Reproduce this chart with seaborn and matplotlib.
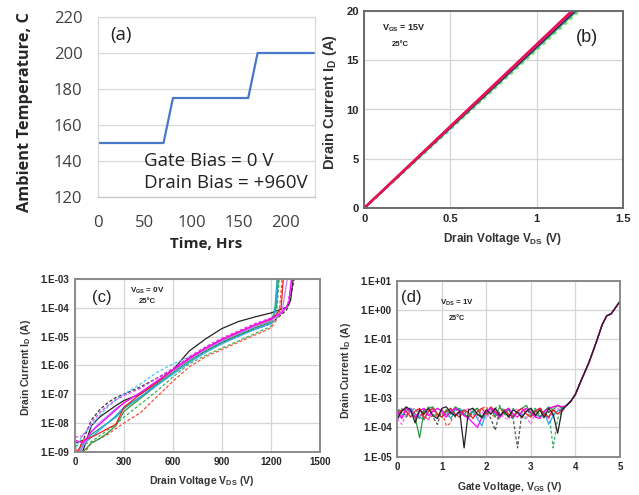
import numpy as np
import pandas as pd
import matplotlib
matplotlib.use("Agg")
import matplotlib.pyplot as plt
import matplotlib.ticker as mticker
import seaborn as sns

sns.set_style("white")
plt.rcParams["font.family"] = ["Liberation Sans", "DejaVu Sans"]
plt.rcParams["mathtext.fontset"] = "custom"
plt.rcParams["mathtext.rm"] = "Liberation Sans"
plt.rcParams["mathtext.bf"] = "Liberation Sans:bold"
plt.rcParams["mathtext.it"] = "Liberation Sans:italic"

# ---------------- (a) stress profile ----------------
stress_hours = [0, 70, 80, 160, 170, 230]
stress_temp_c = [150, 150, 175, 175, 200, 200]

# ---------------- (b) output curves, V_GS = 15 V ----------------
b_names = ["g_dot", "g_solid", "b_solid", "k_solid", "m_solid", "r_solid"]
b_colors = ["#7ee07e", "#2e9e4e", "#2030b0", "#202020", "#ff30c0", "#e8104e"]
b_vds_end = [1.245, 1.232, 1.222, 1.217, 1.210, 1.204]
b_id_end = [20, 20, 20, 20, 20, 20]

# ---------------- (c) blocking curves, V_GS = 0 V (log10 of I_D) ----------------
c_vds = [0, 50, 100, 150, 200, 250, 300, 400, 500, 600, 700, 800, 900, 1000, 1100, 1200]
c_k_solid = [-9.4, -8.95, -8.1, -7.8, -7.6, -7.4, -7.22, -7.0, -6.6, -6.15, -5.5, -5.08, -4.72, -4.48, -4.32, -4.18]
c_k_dash = [-8.7, -8.6, -7.9, -7.55, -7.3, -7.12, -7.0, -6.75, -6.45, -6.15, -5.8, -5.5, -5.2, -4.95, -4.75, -4.55]
c_r_solid = [-9.2, -8.6, -8.5, -8.35, -8.2, -8.05, -7.45, -7.0, -6.6, -6.15, -5.75, -5.4, -5.1, -4.85, -4.6, -4.4]
c_r_dash = [-8.9, -9.1, -8.7, -8.55, -8.4, -8.2, -8.0, -7.65, -7.1, -6.55, -6.05, -5.7, -5.45, -5.2, -4.95, -4.7]
c_g_solid = [-9.5, -9.0, -8.7, -8.55, -8.35, -8.1, -7.6, -7.15, -6.7, -6.25, -5.85, -5.5, -5.2, -4.95, -4.7, -4.5]
c_g_dash = [-8.8, -8.75, -8.65, -8.45, -8.25, -8.05, -7.8, -7.35, -6.9, -6.4, -5.95, -5.65, -5.4, -5.15, -4.9, -4.65]
c_t_solid = [-9.3, -8.8, -8.4, -8.2, -8.0, -7.8, -7.5, -7.1, -6.65, -6.2, -5.8, -5.45, -5.15, -4.9, -4.65, -4.45]
c_c_solid = [-9.1, -8.75, -8.5, -8.25, -8.0, -7.75, -7.45, -7.1, -6.7, -6.3, -5.9, -5.55, -5.25, -5.0, -4.75, -4.55]
c_c_dash = [-8.9, -8.4, -8.1, -7.75, -7.45, -7.2, -7.0, -6.65, -6.25, -5.95, -5.7, -5.45, -5.2, -4.95, -4.75, -4.55]
c_m_solid = [-8.6, -8.7, -8.3, -8.05, -7.8, -7.55, -7.3, -6.95, -6.55, -6.15, -5.75, -5.4, -5.1, -4.85, -4.6, -4.38]
c_m_dash = [-8.5, -8.45, -8.0, -7.65, -7.4, -7.2, -7.05, -6.8, -6.45, -6.1, -5.7, -5.35, -5.05, -4.8, -4.55, -4.35]
c_v_solid = [-9.2, -8.8, -8.3, -8.0, -7.75, -7.5, -7.3, -6.95, -6.6, -6.2, -5.8, -5.45, -5.15, -4.9, -4.65, -4.45]

# avalanche tails beyond 1200 V: (V_DS, log10 I_D)
c_k_solid_tail = ([1300, 1320, 1335], [-3.97, -3.75, -3.0])
c_k_dash_tail = ([1295, 1312, 1342], [-4.08, -3.85, -3.0])
c_r_solid_tail = ([1230, 1262, 1275], [-4.25, -4.0, -3.0])
c_r_dash_tail = ([1230, 1250, 1268], [-4.45, -4.2, -3.0])
c_g_solid_tail = ([1215, 1232, 1245], [-4.3, -4.0, -3.0])
c_g_dash_tail = ([1220, 1236, 1250], [-4.4, -4.05, -3.0])
c_t_solid_tail = ([1215, 1225, 1238], [-4.25, -3.95, -3.0])
c_c_solid_tail = ([1215, 1228, 1240], [-4.3, -4.0, -3.0])
c_c_dash_tail = ([1215, 1230, 1242], [-4.25, -3.95, -3.0])
c_m_solid_tail = ([1260, 1290, 1310, 1325], [-4.2, -4.0, -3.8, -3.0])
c_m_dash_tail = ([1270, 1300, 1330], [-4.15, -3.95, -3.0])
c_v_solid_tail = ([1240, 1270, 1300], [-4.3, -4.05, -3.0])

# ---------------- (d) transfer curves, V_DS = 1 V (log10 of I_D) ----------------
d_vgs_floor = [0.0, 0.1, 0.2, 0.3, 0.4, 0.5, 0.6, 0.7, 0.8, 0.9,
               1.0, 1.1, 1.2, 1.3, 1.4, 1.5, 1.6, 1.7, 1.8, 1.9,
               2.0, 2.1, 2.2, 2.3, 2.4, 2.5, 2.6, 2.7, 2.8, 2.9,
               3.0, 3.1, 3.2, 3.3, 3.4, 3.5, 3.6, 3.7]
d_k_solid = [-3.70, -3.45, -3.30, -3.40, -3.85, -3.40, -3.55, -3.35, -3.60, -3.70,
             -3.35, -3.30, -3.50, -3.60, -3.45, -4.70, -3.40, -3.35, -3.55, -3.65,
             -3.40, -3.55, -3.35, -3.60, -3.45, -3.65, -3.40, -3.50, -3.65, -3.45,
             -3.35, -3.60, -3.40, -3.65, -3.35, -3.55, -4.20, -3.40]
d_k_dash = [-3.45, -3.35, -3.65, -3.35, -3.55, -3.70, -3.40, -3.55, -3.65, -3.90,
            -3.40, -3.60, -3.35, -3.65, -3.45, -3.40, -3.70, -3.45, -3.35, -3.65,
            -3.45, -3.70, -4.10, -3.45, -3.35, -3.60, -3.70, -4.70, -3.45, -3.35,
            -3.60, -3.45, -3.35, -3.70, -3.45, -3.60, -3.40, -3.45]
d_r_solid = [-3.55, -3.40, -3.45, -3.65, -3.45, -3.35, -3.70, -3.45, -3.35, -3.55,
             -3.65, -3.45, -3.35, -3.55, -3.65, -3.40, -3.50, -3.70, -3.45, -3.35,
             -3.55, -3.30, -3.45, -3.65, -3.40, -3.55, -3.65, -3.45, -3.35, -3.55,
             -3.65, -3.45, -3.35, -3.55, -3.65, -3.40, -3.55, -3.40]
d_r_dash = [-3.70, -3.45, -3.60, -3.35, -3.70, -3.45, -3.60, -3.75, -3.40, -3.65,
            -3.40, -3.95, -3.85, -3.30, -3.45, -3.60, -3.70, -3.45, -3.60, -3.35,
            -3.30, -3.55, -3.65, -3.70, -3.45, -3.35, -3.60, -3.45, -3.70, -3.40,
            -3.45, -3.65, -3.35, -3.45, -3.70, -3.30, -3.25, -3.40]
d_g_solid = [-3.60, -3.45, -3.35, -3.45, -3.65, -4.35, -3.45, -3.35, -3.30, -3.55,
             -3.65, -3.40, -3.55, -3.30, -3.40, -3.55, -3.65, -3.45, -3.35, -3.70,
             -3.45, -3.35, -3.65, -3.30, -3.55, -3.40, -3.65, -3.45, -3.35, -3.25,
             -3.55, -3.40, -3.65, -3.45, -3.30, -3.40, -3.25, -3.35]
d_g_dash = [-3.40, -3.55, -3.65, -3.45, -3.35, -3.65, -3.45, -3.30, -3.55, -3.65,
            -3.40, -3.55, -3.70, -3.45, -3.35, -3.55, -3.65, -3.35, -3.55, -3.70,
            -3.60, -3.45, -3.35, -3.25, -3.55, -3.65, -3.35, -3.55, -3.65, -3.70,
            -3.45, -3.35, -3.55, -3.65, -3.45, -4.70, -3.70, -3.45]
d_c_solid = [-3.70, -3.60, -3.45, -3.35, -3.55, -3.65, -3.75, -3.45, -3.35, -3.55,
             -3.65, -3.45, -3.70, -3.40, -3.35, -3.55, -3.65, -3.45, -3.70, -3.95,
             -3.45, -3.35, -3.55, -3.65, -3.45, -3.35, -3.70, -3.45, -3.60, -3.45,
             -3.35, -3.55, -3.65, -3.45, -3.90, -3.60, -3.45, -3.35]
d_m_solid = [-3.45, -3.70, -3.35, -3.45, -3.65, -3.45, -3.35, -3.60, -3.45, -3.35,
             -3.45, -3.65, -3.45, -3.35, -3.45, -3.60, -3.70, -3.85, -4.00, -3.65,
             -3.45, -3.35, -3.50, -3.65, -3.45, -3.35, -3.55, -3.65, -3.45, -3.35,
             -3.50, -3.65, -3.70, -3.45, -3.35, -3.30, -3.25, -3.30]
d_m_dash = [-3.70, -3.90, -3.55, -3.40, -3.35, -3.55, -3.65, -3.75, -3.45, -3.35,
            -3.55, -3.65, -3.45, -3.35, -3.65, -3.45, -3.35, -3.55, -3.70, -3.45,
            -3.70, -3.45, -3.35, -3.55, -3.65, -3.75, -3.45, -3.35, -3.55, -3.65,
            -3.90, -3.45, -3.35, -3.55, -3.70, -3.45, -3.35, -3.45]
# common turn-on branch above threshold
d_vgs_ramp = [3.8, 3.9, 4.0, 4.1, 4.2, 4.3, 4.4, 4.5, 4.6, 4.7, 4.8, 4.9, 5.0]
d_log_ramp = [-3.25, -3.1, -2.87, -2.5, -2.15, -1.8, -1.38, -0.95, -0.5, -0.2, -0.13, 0.08, 0.3]

# ---------------- styling tables ----------------
c_series = {
    "k_solid": (c_k_solid, c_k_solid_tail, "#222222", False),
    "k_dash": (c_k_dash, c_k_dash_tail, "#333333", True),
    "r_dash": (c_r_dash, c_r_dash_tail, "#ff4a3a", True),
    "g_dash": (c_g_dash, c_g_dash_tail, "#3cb060", True),
    "c_dash": (c_c_dash, c_c_dash_tail, "#4cc4f4", True),
    "m_dash": (c_m_dash, c_m_dash_tail, "#e040ff", True),
    "t_solid": (c_t_solid, c_t_solid_tail, "#10a088", False),
    "g_solid": (c_g_solid, c_g_solid_tail, "#2a9a3c", False),
    "c_solid": (c_c_solid, c_c_solid_tail, "#30a8f0", False),
    "v_solid": (c_v_solid, c_v_solid_tail, "#c080ff", False),
    "r_solid": (c_r_solid, c_r_solid_tail, "#ee2020", False),
    "m_solid": (c_m_solid, c_m_solid_tail, "#ff00ff", False),
}
d_series = {
    "r_dash": (d_r_dash, "#ff4a3a", True),
    "g_dash": (d_g_dash, "#3cb060", True),
    "k_dash": (d_k_dash, "#555555", True),
    "m_dash": (d_m_dash, "#ff66ff", True),
    "c_solid": (d_c_solid, "#30a8f0", False),
    "g_solid": (d_g_solid, "#2a9a3c", False),
    "r_solid": (d_r_solid, "#ee2020", False),
    "m_solid": (d_m_solid, "#ff00ff", False),
    "k_solid": (d_k_solid, "#222222", False),
}

W, H = 639, 495
fig = plt.figure(figsize=(W / 100, H / 100), dpi=100, facecolor="white")
CAL = ["Open Sans", "DejaVu Sans"]


def box(left, right, top, bottom):
    return [left / W, 1 - bottom / H, (right - left) / W, (bottom - top) / H]


def science_axes(ax):
    for s in ax.spines.values():
        s.set_color("#8a8a8a")
        s.set_linewidth(1.4)
    ax.grid(True, which="major", color="#d4d4d4", linewidth=0.9)
    ax.tick_params(which="both", direction="in", color="#7a7a7a", width=0.8,
                   labelsize=7, pad=3)
    ax.tick_params(which="major", length=3.5)
    ax.tick_params(which="minor", length=2.5)
    for lab in ax.get_xticklabels() + ax.get_yticklabels():
        lab.set_fontweight("bold")
    ax.set_axisbelow(True)


def sci_fmt(v, pos):
    e = int(round(np.log10(v)))
    return f"1.E{e:+03d}"


# ---------------- panel (a) ----------------
ax_a = fig.add_axes(box(97.7, 315, 17, 197))
df_a = pd.DataFrame({"hours": stress_hours, "temp": stress_temp_c})
sns.lineplot(data=df_a, x="hours", y="temp", ax=ax_a, color="#4a78c8",
             linewidth=1.6, sort=False, estimator=None)
ax_a.set_xlim(0, 231)
ax_a.set_ylim(120, 220)
ax_a.set_yticks(range(120, 221, 20))
ax_a.set_xticks(range(0, 201, 50))
ax_a.grid(True, axis="y", color="#d9d9d9", linewidth=0.9)
ax_a.grid(False, axis="x")
for s in ax_a.spines.values():
    s.set_color("#d9d9d9")
    s.set_linewidth(0.9)
ax_a.spines["bottom"].set_color("#c8c8c8")
ax_a.tick_params(axis="y", length=0, pad=11, labelsize=12, labelcolor="#404040")
ax_a.tick_params(axis="x", direction="in", length=4, color="#c8c8c8", pad=13,
                 labelsize=12, labelcolor="#404040")
for lab in ax_a.get_xticklabels() + ax_a.get_yticklabels():
    lab.set_family(CAL)
ax_a.set_xlabel("Time, Hrs", fontsize=11, fontweight="bold", family=CAL)
ax_a.set_ylabel("Ambient Temperature, C", fontsize=11.8, fontweight="bold", family=CAL)
ax_a.xaxis.set_label_coords(0.5, -0.222)
ax_a.yaxis.set_label_coords(-0.30, 0.475)
ax_a.text(24.8, 210, "(a)", fontsize=13.5, ha="center", va="center", color="#222222",
          family=CAL)
ax_a.text(49, 140, "Gate Bias = 0 V", fontsize=13.5, ha="left", va="center",
          color="#222222", family=CAL)
ax_a.text(49, 127.8, "Drain Bias = +960V", fontsize=13.5, ha="left", va="center",
          color="#222222", family=CAL)

# ---------------- panel (b) ----------------
ax_b = fig.add_axes(box(364.3, 622.7, 11, 208))
rows = []
for name, v_end, i_end in zip(b_names, b_vds_end, b_id_end):
    rows.append({"curve": name, "vds": 0.0, "id": 0.0})
    rows.append({"curve": name, "vds": v_end, "id": i_end})
df_b = pd.DataFrame(rows)
b_dashes = {n: ((1.2, 1.2) if n == "g_dot" else "") for n in b_names}
b_widths = {"g_dot": 2.2, "g_solid": 1.4, "b_solid": 1.4, "k_solid": 1.4,
            "m_solid": 1.6, "r_solid": 1.8}
sns.lineplot(data=df_b, x="vds", y="id", hue="curve", style="curve",
             palette=dict(zip(b_names, b_colors)), dashes=b_dashes,
             hue_order=b_names, style_order=b_names,
             sort=False, estimator=None, legend=False, ax=ax_b)
for line, n in zip(ax_b.get_lines(), b_names):
    line.set_linewidth(b_widths[n])
ax_b.set_xlim(0, 1.5)
ax_b.set_ylim(0, 20)
ax_b.set_xticks([0, 0.5, 1, 1.5])
ax_b.set_xticklabels(["0", "0.5", "1", "1.5"])
ax_b.set_yticks([0, 5, 10, 15, 20])
ax_b.xaxis.set_minor_locator(mticker.MultipleLocator(0.1))
ax_b.yaxis.set_minor_locator(mticker.MultipleLocator(1))
science_axes(ax_b)
ax_b.spines[:].set_color("#6a6a6a")
ax_b.tick_params(labelsize=8, pad=4)
ax_b.set_xlabel("Drain Voltage V$_{\\mathbf{DS}}$ (V)", fontsize=8.5, fontweight="bold", color="#333333")
ax_b.set_ylabel("Drain Current I$_{\\mathbf{D}}$ (A)", fontsize=10.5, fontweight="bold", color="#333333")
ax_b.xaxis.set_label_coords(0.536, -0.115)
ax_b.yaxis.set_label_coords(-0.098, 0.536)
ax_b.text(0.154, 0.914, "V$_{\\mathbf{GS}}$ = 15V", transform=ax_b.transAxes, fontsize=6.5,
          fontweight="bold", ha="center", va="center", color="#222222")
ax_b.text(0.138, 0.832, "25°C", transform=ax_b.transAxes, fontsize=5.5,
          fontweight="bold", ha="center", va="center", color="#222222")
ax_b.text(0.861, 0.868, "(b)", transform=ax_b.transAxes, fontsize=13,
          ha="center", va="center", color="#222222")

# ---------------- panel (c) ----------------
ax_c = fig.add_axes(box(75, 320, 279, 451.7))
rows = []
for name, (logs, tail, col, dashed) in c_series.items():
    vv = list(c_vds) + list(tail[0])
    ll = list(logs) + list(tail[1])
    for v, l in zip(vv, ll):
        rows.append({"curve": name, "vds": v, "id": 10.0 ** l})
df_c = pd.DataFrame(rows)
c_names = list(c_series.keys())
sns.lineplot(data=df_c, x="vds", y="id", hue="curve", style="curve",
             palette={n: c_series[n][2] for n in c_names},
             dashes={n: ((2.5, 1.6) if c_series[n][3] else "") for n in c_names},
             hue_order=c_names, style_order=c_names, linewidth=0.9,
             sort=False, estimator=None, legend=False, ax=ax_c)
ax_c.set_yscale("log")
ax_c.set_xlim(0, 1500)
ax_c.set_ylim(1e-9, 1e-3)
ax_c.set_xticks(range(0, 1501, 300))
ax_c.xaxis.set_minor_locator(mticker.MultipleLocator(100))
ax_c.yaxis.set_major_locator(mticker.LogLocator(base=10, numticks=10))
ax_c.yaxis.set_minor_locator(mticker.LogLocator(base=10, subs=np.arange(2, 10), numticks=20))
ax_c.yaxis.set_major_formatter(mticker.FuncFormatter(sci_fmt))
ax_c.yaxis.set_minor_formatter(mticker.NullFormatter())
science_axes(ax_c)
ax_c.tick_params(labelsize=7, pad=4)
ax_c.set_xlabel("Drain Voltage V$_{\\mathbf{DS}}$ (V)", fontsize=7.5, fontweight="bold", color="#333333")
ax_c.set_ylabel("Drain Current I$_{\\mathbf{D}}$ (A)", fontsize=7.5, fontweight="bold", color="#333333")
ax_c.xaxis.set_label_coords(0.517, -0.132)
ax_c.yaxis.set_label_coords(-0.171, 0.485)
ax_c.text(0.110, 0.890, "(c)", transform=ax_c.transAxes, fontsize=12,
          ha="center", va="center", color="#222222")
ax_c.text(0.294, 0.930, "V$_{\\mathbf{GS}}$ = 0V", transform=ax_c.transAxes, fontsize=5.8,
          fontweight="bold", ha="center", va="center", color="#222222")
ax_c.text(0.294, 0.867, "25°C", transform=ax_c.transAxes, fontsize=5.5,
          fontweight="bold", ha="center", va="center", color="#222222")

# ---------------- panel (d) ----------------
ax_d = fig.add_axes(box(397.3, 620, 280.7, 456.7))
rows = []
for name, (logs, col, dashed) in d_series.items():
    vv = list(d_vgs_floor) + list(d_vgs_ramp)
    ll = list(logs) + list(d_log_ramp)
    for v, l in zip(vv, ll):
        rows.append({"curve": name, "vgs": v, "id": 10.0 ** l})
df_d = pd.DataFrame(rows)
d_names = list(d_series.keys())
sns.lineplot(data=df_d, x="vgs", y="id", hue="curve", style="curve",
             palette={n: d_series[n][1] for n in d_names},
             dashes={n: ((2.5, 1.6) if d_series[n][2] else "") for n in d_names},
             hue_order=d_names, style_order=d_names, linewidth=0.9,
             sort=False, estimator=None, legend=False, ax=ax_d)
ax_d.set_yscale("log")
ax_d.set_xlim(0, 5)
ax_d.set_ylim(1e-5, 1e1)
ax_d.set_xticks(range(0, 6))
ax_d.xaxis.set_minor_locator(mticker.MultipleLocator(0.2))
ax_d.yaxis.set_major_locator(mticker.LogLocator(base=10, numticks=10))
ax_d.yaxis.set_minor_locator(mticker.LogLocator(base=10, subs=np.arange(2, 10), numticks=20))
ax_d.yaxis.set_major_formatter(mticker.FuncFormatter(sci_fmt))
ax_d.yaxis.set_minor_formatter(mticker.NullFormatter())
science_axes(ax_d)
ax_d.tick_params(labelsize=7, pad=4)
ax_d.set_xlabel("Gate Voltage, V$_{\\mathbf{GS}}$ (V)", fontsize=7.5, fontweight="bold", color="#333333")
ax_d.set_ylabel("Drain Current I$_{\\mathbf{D}}$ (A)", fontsize=7.5, fontweight="bold", color="#333333")
ax_d.xaxis.set_label_coords(0.506, -0.13)
ax_d.yaxis.set_label_coords(-0.197, 0.489)
ax_d.text(0.062, 0.902, "(d)", transform=ax_d.transAxes, fontsize=12,
          ha="center", va="center", color="#222222")
ax_d.text(0.268, 0.873, "V$_{\\mathbf{DS}}$ = 1V", transform=ax_d.transAxes, fontsize=5.8,
          fontweight="bold", ha="center", va="center", color="#222222")
ax_d.text(0.268, 0.788, "25°C", transform=ax_d.transAxes, fontsize=5.2,
          fontweight="bold", ha="center", va="center", color="#222222")

fig.savefig("out.png", dpi=100, facecolor="white")
